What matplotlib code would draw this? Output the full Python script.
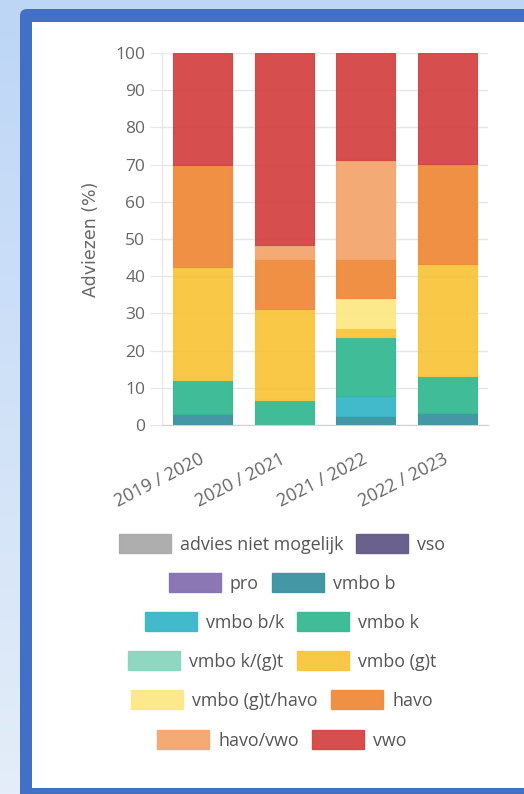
import numpy as np
import matplotlib
matplotlib.use("Agg")
import matplotlib.pyplot as plt
from matplotlib.patches import FancyBboxPatch, Rectangle, Patch
from matplotlib.transforms import IdentityTransform
from matplotlib.colors import LinearSegmentedColormap

plt.rcParams['font.family'] = ['Open Sans', 'DejaVu Sans']

years = ["2019 / 2020", "2020 / 2021", "2021 / 2022", "2022 / 2023"]
categories = ["advies niet mogelijk", "vso", "pro", "vmbo b", "vmbo b/k", "vmbo k",
              "vmbo k/(g)t", "vmbo (g)t", "vmbo (g)t/havo", "havo", "havo/vwo", "vwo"]
colors = ["#aaaaaa", "#625a87", "#8470b0", "#3a929f", "#38b7c9", "#35b993",
          "#88d6bf", "#f9c53c", "#fce885", "#f08a3b", "#f3a66e", "#d54444"]

# percentages per category, one value per school year
advies_niet = [0, 0, 0, 0]
vso = [0, 0, 0, 0]
pro = [0, 0, 0, 0]
vmbo_b = [3.0, 0, 2.3, 3.1]
vmbo_bk = [0, 0, 5.5, 0]
vmbo_k = [9.0, 6.7, 15.8, 10.1]
vmbo_kgt = [0, 0, 0, 0]
vmbo_gt = [30.5, 24.4, 2.6, 30.0]
vmbo_gt_havo = [0, 0, 7.9, 0]
havo = [27.4, 13.5, 10.5, 26.9]
havo_vwo = [0, 3.8, 26.6, 0]
vwo = [30.1, 51.6, 28.8, 29.9]

series = [advies_niet, vso, pro, vmbo_b, vmbo_bk, vmbo_k, vmbo_kgt,
          vmbo_gt, vmbo_gt_havo, havo, havo_vwo, vwo]

W, H = 524, 794
fig = plt.figure(figsize=(W / 100, H / 100), dpi=100)

# page background gradient
bg = fig.add_axes([0, 0, 1, 1], zorder=-3)
grad = np.linspace(0, 1, 256).reshape(-1, 1)
cm = LinearSegmentedColormap.from_list("bg", ["#bdd6f6", "#e4edf9"])
bg.imshow(grad, aspect="auto", cmap=cm, extent=[0, 1, 0, 1])
bg.axis("off")

# blue card frame
frame = FancyBboxPatch((20, -20), 540, H - 9 + 20, boxstyle="round,pad=0,rounding_size=7",
                       transform=IdentityTransform(), facecolor="#4170c6", edgecolor="none", zorder=-2)
fig.patches.append(frame)
inner = Rectangle((32, 6), 520, H - 22 - 6, transform=IdentityTransform(),
                  facecolor="white", edgecolor="none", zorder=-1)
fig.patches.append(inner)

ax = fig.add_axes([162 / W, 1 - 425 / H, 326 / W, 372 / H])
x = np.arange(len(years))
bottom = np.zeros(len(years))
for name, vals, col in zip(categories, series, colors):
    vals = np.array(vals, dtype=float)
    ax.bar(x, vals, 0.72, bottom=bottom, color=col, alpha=0.95,
           edgecolor=col, linewidth=0.8, label=name, zorder=2)
    bottom += vals

ax.set_xlim(-0.5, 3.5)
ax.set_ylim(0, 100)
ax.set_yticks(range(0, 101, 10))
ax.grid(axis="y", color="#e6e6e6", linewidth=1, zorder=0)
for s in ["top", "right"]:
    ax.spines[s].set_visible(False)
ax.spines["left"].set_color("#e6e6e6")
ax.spines["bottom"].set_color("#d0d0d0")
ax.tick_params(axis="y", length=9, color="#e6e6e6", labelsize=12.5, labelcolor="#666666", pad=3)
ax.tick_params(axis="x", length=0, labelsize=13, labelcolor="#666666", pad=24)
ax.set_xticks(x)
ax.set_xticklabels(years, rotation=27, ha="right", va="center", rotation_mode="anchor")
ax.set_ylabel("Adviezen (%)", fontsize=12.5, color="#666666", labelpad=11,
              family=["DejaVu Sans"])

# legend: chart.js style, two entries per centred row
rows_y = [544, 583, 622, 661, 700, 740]
for r, yy in enumerate(rows_y):
    handles = [Patch(facecolor=colors[i], edgecolor=colors[i], alpha=0.95)
               for i in (2 * r, 2 * r + 1)]
    lg = fig.legend(handles, [categories[2 * r], categories[2 * r + 1]],
                    loc="center", bbox_to_anchor=(282 / W, 1 - yy / H), ncol=2,
                    frameon=False, fontsize=12.9, handlelength=2.9, handleheight=1.25,
                    handletextpad=0.5, columnspacing=0.75, borderpad=0, borderaxespad=0)
    for t in lg.get_texts():
        t.set_color("#555555")

fig.savefig("out.png", dpi=100)
